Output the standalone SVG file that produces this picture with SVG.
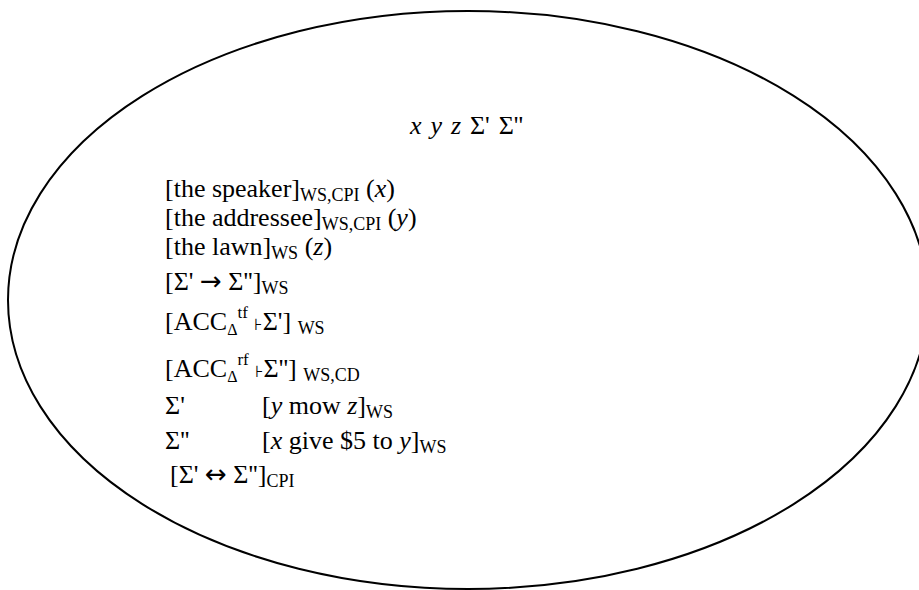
<svg xmlns="http://www.w3.org/2000/svg" width="919" height="590" viewBox="0 0 919 590">
<style>
text{font-family:"Liberation Serif","Times New Roman",serif;font-size:26px;fill:#000}
.sub{font-size:18px}
.i{font-style:italic}
.sm{font-size:16px}
.sp{font-size:17px}
.ts{font-family:"DejaVu Sans","Liberation Serif",serif;font-size:16px}
.ar{font-family:"DejaVu Sans","Liberation Serif",serif;font-size:26px}
</style>
<rect width="919" height="590" fill="#fff"/>
<g id="frame">
<ellipse cx="468" cy="300" rx="460" ry="289" fill="none" stroke="#000" stroke-width="2"/>
</g>
<g id="title">
<text x="410" y="134" word-spacing="2.4"><tspan class="i">x</tspan> <tspan class="i">y</tspan> <tspan class="i">z</tspan> Σ' Σ''</text>
</g>
<g id="content">
<text x="165" y="197">[the speaker]<tspan class="sub" dy="4">WS,CPI</tspan><tspan dy="-4"> (</tspan><tspan class="i">x</tspan>)</text>
<text x="165" y="226">[the addressee]<tspan class="sub" dy="4">WS,CPI</tspan><tspan dy="-4"> (</tspan><tspan class="i">y</tspan>)</text>
<text x="165" y="255">[the lawn]<tspan class="sub" dy="4">WS</tspan><tspan dy="-4"> (</tspan><tspan class="i">z</tspan>)</text>
<text x="165" y="290">[Σ' <tspan class="ar">→</tspan> Σ'']<tspan class="sub" dy="4">WS</tspan></text>
<text x="165" y="330">[ACC<tspan class="sm" dy="5">Δ</tspan><tspan class="sp" dy="-17">tf</tspan><tspan dy="12"> </tspan><tspan class="ts">⊦</tspan>Σ'] <tspan class="sub" dy="4">WS</tspan></text>
<text x="165" y="377">[ACC<tspan class="sm" dy="5">Δ</tspan><tspan class="sp" dy="-17">rf</tspan><tspan dy="12"> </tspan><tspan class="ts">⊦</tspan>Σ''] <tspan class="sub" dy="4">WS,CD</tspan></text>
<text x="165" y="414">Σ'</text>
<text x="262" y="414">[<tspan class="i">y</tspan> mow <tspan class="i">z</tspan>]<tspan class="sub" dy="4">WS</tspan></text>
<text x="165" y="449">Σ''</text>
<text x="262" y="449">[<tspan class="i">x</tspan> give $5 to <tspan class="i">y</tspan>]<tspan class="sub" dy="4">WS</tspan></text>
<text x="170" y="483">[Σ' <tspan class="ar">↔</tspan> Σ'']<tspan class="sub" dy="4">CPI</tspan></text>
</g>
</svg>
